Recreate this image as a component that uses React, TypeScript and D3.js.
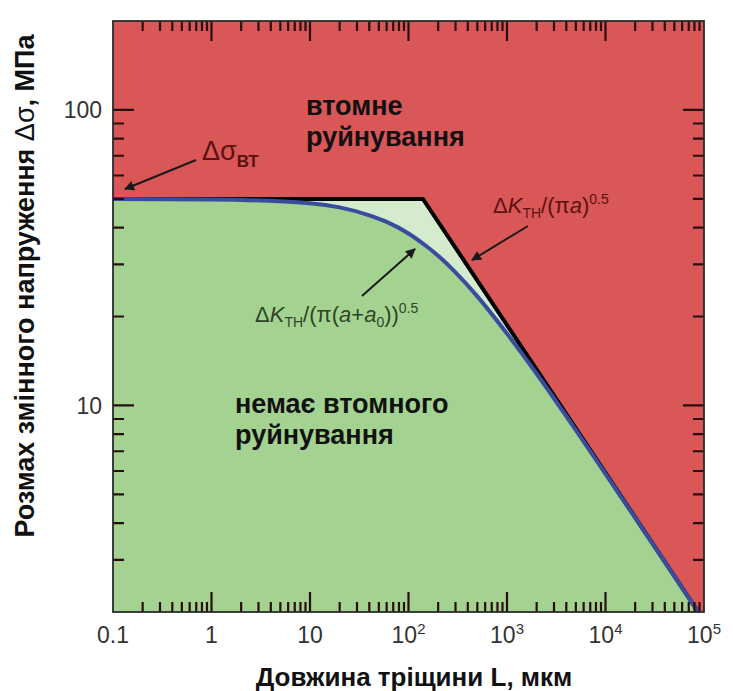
import { useRef, useEffect } from "react";
import * as d3 from "d3";

// crack length (мкм) / stress range (МПа)
const thresholdL = [0.1, 140, 100000];
const thresholdS = [50, 50, 1.87];

const curveL = [0.1, 1, 10, 20, 40, 60, 100, 150, 200, 300, 500, 1000, 2000, 5000, 10000, 30000, 100000];
const curveS = [50, 49.8, 48.3, 46.8, 44.0, 41.8, 38.2, 34.7, 32.1, 28.2, 23.4, 17.5, 12.8, 8.25, 5.87, 3.41, 1.87];

const xTickValues = [0.1, 1, 10, 100, 1000, 10000, 100000];
const xTickLabels = [["0.1", ""], ["1", ""], ["10", ""], ["10", "2"], ["10", "3"], ["10", "4"], ["10", "5"]];
const yTickValues = [10, 100];
const yTickLabels = ["10", "100"];
const minorSteps = [2, 3, 4, 5, 6, 7, 8, 9];

const FONT = "Arial, 'Liberation Sans', sans-serif";

export default function App() {
  const ref = useRef<SVGSVGElement>(null);

  const margin = { top: 21, right: 29, bottom: 79, left: 113 },
    width = 733 - margin.left - margin.right,
    height = 691 - margin.top - margin.bottom;

  useEffect(() => {
    const root = d3.select(ref.current);
    root.selectAll("*").remove();

    const x = d3.scaleLog().domain([0.1, 100000]).range([0, width]);
    const y = d3.scaleLog().domain([2, 200]).range([height, 0]);

    const defs = root.append("defs");
    defs.append("clipPath").attr("id", "plotclip")
      .append("rect").attr("width", width).attr("height", height);
    defs.append("marker")
      .attr("id", "arrowhead")
      .attr("viewBox", "0 0 10 10")
      .attr("refX", 9).attr("refY", 5)
      .attr("markerWidth", 5).attr("markerHeight", 5)
      .attr("orient", "auto")
      .append("path").attr("d", "M0,0 L10,5 L0,10 z").attr("fill", "#1a1a1a");

    const g = root.append("g").attr("transform", `translate(${margin.left}, ${margin.top})`);
    const plot = g.append("g").attr("clip-path", "url(#plotclip)");

    // red background
    plot.append("rect").attr("width", width).attr("height", height).attr("fill", "#d95757");

    const thr = thresholdL.map((d, i) => ({ l: d, s: thresholdS[i] }));
    const crv = curveL.map((d, i) => ({ l: d, s: curveS[i] }));

    const areaLin = d3.area<any>().x((d) => x(d.l)).y0(height).y1((d) => y(d.s));
    const areaCurve = d3.area<any>().x((d) => x(d.l)).y0(height).y1((d) => y(d.s)).curve(d3.curveMonotoneX);

    plot.append("path").attr("d", areaLin(thr)).attr("fill", "#d5ebcd");
    plot.append("path").attr("d", areaCurve(crv)).attr("fill", "#a4d290");

    const lineLin = d3.line<any>().x((d) => x(d.l)).y((d) => y(d.s));
    const lineCurve = d3.line<any>().x((d) => x(d.l)).y((d) => y(d.s)).curve(d3.curveMonotoneX);

    plot.append("path").attr("d", lineLin(thr)).attr("fill", "none")
      .attr("stroke", "#000").attr("stroke-width", 4).attr("stroke-linejoin", "miter");
    plot.append("path").attr("d", lineCurve(crv)).attr("fill", "none")
      .attr("stroke", "#3a4c9e").attr("stroke-width", 4);

    // ticks (inward, on all four sides), built as one path
    const xMinor: number[] = [];
    [0.1, 1, 10, 100, 1000, 10000].forEach((b) => minorSteps.forEach((k) => xMinor.push(k * b)));
    const yMinor: number[] = [];
    [1, 10, 100].forEach((b) => minorSteps.forEach((k) => {
      const v = k * b;
      if (v > 2 && v < 200) yMinor.push(v);
    }));
    let td = "";
    xMinor.forEach((v) => {
      const px = x(v);
      td += `M${px},${height}V${height - 10}M${px},0V10`;
    });
    xTickValues.slice(1, -1).forEach((v) => {
      const px = x(v);
      td += `M${px},${height}V${height - 20}M${px},0V20`;
    });
    yMinor.forEach((v) => {
      const py = y(v);
      td += `M0,${py}H11M${width},${py}H${width - 11}`;
    });
    yTickValues.forEach((v) => {
      const py = y(v);
      td += `M0,${py}H21M${width},${py}H${width - 21}`;
    });
    g.append("path").attr("d", td).attr("fill", "none")
      .attr("stroke", "#2a0e0e").attr("stroke-width", 2.2);

    // frame
    g.append("rect").attr("width", width).attr("height", height)
      .attr("fill", "none").attr("stroke", "#2b2b2b").attr("stroke-width", 1.8);

    // tick labels
    xTickValues.forEach((v, i) => {
      const t = g.append("text")
        .attr("x", x(v)).attr("y", height + 31)
        .attr("text-anchor", "middle")
        .attr("font-family", FONT).attr("font-size", 23).attr("fill", "#333");
      t.append("tspan").text(xTickLabels[i][0]);
      if (xTickLabels[i][1]) {
        t.append("tspan").attr("dy", -9).attr("font-size", 15).text(xTickLabels[i][1]);
      }
    });
    yTickValues.forEach((v, i) => {
      g.append("text")
        .attr("x", -11).attr("y", y(v)).attr("dy", "0.35em")
        .attr("text-anchor", "end")
        .attr("font-family", FONT).attr("font-size", 23).attr("fill", "#333")
        .text(yTickLabels[i]);
    });

    // axis titles
    root.append("text")
      .attr("x", 414).attr("y", 686)
      .attr("text-anchor", "middle")
      .attr("font-family", FONT).attr("font-size", 26).attr("font-weight", "bold").attr("fill", "#111")
      .text("Довжина тріщини L, мкм");
    const yt = root.append("text")
      .attr("transform", "translate(34, 286) rotate(-90)")
      .attr("text-anchor", "middle")
      .attr("font-family", FONT).attr("font-size", 27).attr("font-weight", "bold").attr("fill", "#111");
    yt.append("tspan").text("Розмах змінного напруження ");
    yt.append("tspan").attr("font-weight", "normal").text("Δσ");
    yt.append("tspan").text(", МПа");

    // region labels
    const bigLabel = (lines: string[], px: number, py: number) => {
      lines.forEach((s, i) => {
        root.append("text")
          .attr("x", px).attr("y", py + i * 31)
          .attr("font-family", FONT).attr("font-size", 27).attr("font-weight", "bold").attr("fill", "#111")
          .text(s);
      });
    };
    bigLabel(["втомне", "руйнування"], 306, 115);
    bigLabel(["немає втомного", "руйнування"], 235, 413);

    // annotations
    const ds = root.append("text").attr("x", 202).attr("y", 160)
      .attr("font-family", FONT).attr("font-size", 27).attr("fill", "#5a1212");
    ds.append("tspan").text("Δσ");
    ds.append("tspan").attr("dy", 7).attr("font-size", 17).attr("font-weight", "bold").text("ВТ");

    const k1 = root.append("text").attr("x", 493).attr("y", 213)
      .attr("font-family", FONT).attr("font-size", 22).attr("fill", "#5a1212");
    k1.append("tspan").text("Δ");
    k1.append("tspan").attr("font-style", "italic").text("K");
    k1.append("tspan").attr("dy", 5).attr("font-size", 14).text("TH");
    k1.append("tspan").attr("dy", -5).text("/(π");
    k1.append("tspan").attr("font-style", "italic").text("a");
    k1.append("tspan").text(")");
    k1.append("tspan").attr("dy", -9).attr("font-size", 14).text("0.5");

    const k2 = root.append("text").attr("x", 255).attr("y", 322)
      .attr("font-family", FONT).attr("font-size", 22).attr("fill", "#2f4526");
    k2.append("tspan").text("Δ");
    k2.append("tspan").attr("font-style", "italic").text("K");
    k2.append("tspan").attr("dy", 5).attr("font-size", 14).text("TH");
    k2.append("tspan").attr("dy", -5).text("/(π(");
    k2.append("tspan").attr("font-style", "italic").text("a");
    k2.append("tspan").text("+");
    k2.append("tspan").attr("font-style", "italic").text("a");
    k2.append("tspan").attr("dy", 5).attr("font-size", 14).text("0");
    k2.append("tspan").attr("dy", -5).text("))");
    k2.append("tspan").attr("dy", -9).attr("font-size", 14).text("0.5");

    const arrow = (x1: number, y1: number, x2: number, y2: number) => {
      root.append("line")
        .attr("x1", x1).attr("y1", y1).attr("x2", x2).attr("y2", y2)
        .attr("stroke", "#1a1a1a").attr("stroke-width", 2)
        .attr("marker-end", "url(#arrowhead)");
    };
    arrow(196, 160, 125, 189);
    arrow(528, 226, 472, 260);
    arrow(362, 296, 415, 249);
  }, []);

  return (
    <svg
      ref={ref}
      width={733}
      height={691}
      style={{ position: "absolute", left: 0, top: 0, background: "#fff" }}
    />
  );
}
